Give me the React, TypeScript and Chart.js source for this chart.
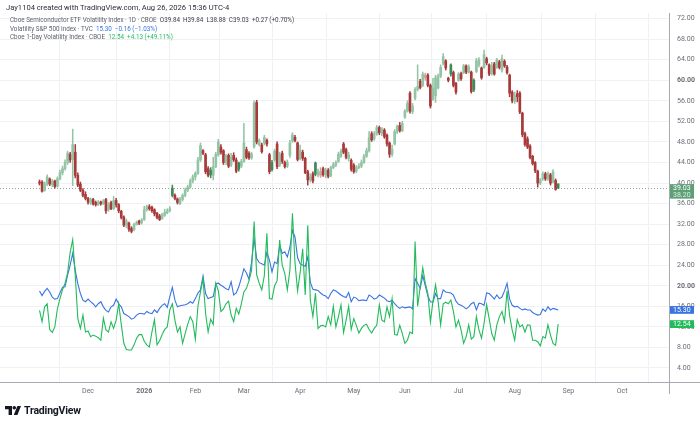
import React, { useEffect, useRef } from 'react';
import { Chart, registerables } from 'chart.js';

Chart.register(...registerables);

// ---------- DATA ----------
// Trading-day index 0 = 3 Nov 2025 ... 203 = 26 Aug 2026
const openP = [
  40.2, 40.2, 38.6, 39.8, 40.8, 39.7, 40.4, 39.4, 40.8, 42.0,
  42.8, 44.0, 45.6, 44.6, 46.0, 41.5, 39.8, 38.6, 37.8, 37.0,
  36.2, 36.8, 36.2, 35.8, 36.3, 36.0, 36.8, 34.8, 36.2, 35.0,
  36.6, 35.8, 34.5, 33.4, 31.8, 32.2, 31.2, 30.9, 31.9, 32.6,
  32.3, 32.9, 34.8, 35.4, 35.3, 34.8, 34.1, 33.6, 33.1, 33.7,
  34.2, 34.6, 39.0, 37.6, 36.9, 36.0, 36.8, 37.6, 38.6, 39.2,
  40.4, 41.2, 41.9, 44.5, 46.3, 45.5, 42.8, 42.5, 41.5, 43.2,
  45.5, 47.0, 46.3, 44.0, 45.4, 43.5, 45.4, 44.5, 43.9, 43.3,
  44.2, 46.5, 45.8, 44.9, 47.0, 55.7, 47.5, 47.4, 47.8, 48.3,
  45.5, 44.0, 44.5, 47.6, 43.5, 45.8, 44.0, 43.3, 45.4, 48.2,
  48.9, 47.8, 44.8, 46.0, 44.8, 42.2, 40.6, 41.8, 43.9, 41.6,
  41.5, 42.8, 41.6, 42.5, 41.4, 43.0, 43.5, 44.2, 45.2, 47.6,
  46.5, 44.8, 44.4, 43.5, 42.3, 43.0, 43.3, 44.0, 45.2, 46.3,
  49.6, 48.6, 49.6, 50.8, 49.6, 50.3, 49.3, 47.8, 45.6, 47.6,
  50.0, 51.2, 50.2, 52.8, 54.0, 57.5, 53.9, 56.5, 58.2, 59.8,
  59.0, 60.5, 61.0, 59.0, 56.3, 57.0, 58.5, 60.8, 63.3, 63.8,
  60.4, 63.0, 61.5, 59.4, 60.0, 61.3, 61.5, 62.8, 61.6, 61.6,
  60.0, 61.7, 63.0, 62.4, 62.5, 64.2, 63.0, 61.4, 63.2, 62.5,
  63.6, 62.0, 63.7, 62.6, 61.0, 57.7, 55.9, 57.4, 57.5, 53.6,
  49.6, 48.6, 47.2, 45.2, 44.0, 42.3, 40.0, 40.8, 41.8, 40.8,
  41.6, 40.2, 40.5, 39.84,
];
const highP = [
  40.6, 40.5, 40.2, 41.6, 41.0, 40.7, 40.6, 41.2, 42.5, 43.3,
  44.5, 46.2, 46.0, 50.5, 47.5, 42.0, 40.2, 38.9, 38.3, 37.2,
  37.1, 37.0, 36.5, 36.6, 36.5, 36.8, 37.0, 36.2, 36.5, 37.4,
  37.0, 36.0, 34.7, 33.6, 33.0, 32.4, 31.5, 32.2, 32.6, 32.8,
  33.1, 35.5, 35.7, 35.8, 35.5, 35.0, 34.3, 33.9, 34.1, 34.9,
  35.0, 35.4, 39.6, 37.9, 37.1, 37.2, 37.9, 39.0, 39.6, 40.8,
  41.6, 42.2, 45.0, 47.8, 46.5, 45.8, 43.2, 43.0, 45.0, 46.0,
  48.5, 47.5, 46.5, 45.6, 45.7, 45.8, 45.9, 44.9, 44.1, 44.6,
  51.6, 47.0, 46.1, 46.0, 56.0, 56.1, 48.6, 47.8, 49.3, 48.6,
  45.8, 44.4, 46.6, 48.0, 46.0, 46.2, 44.3, 44.5, 48.3, 49.8,
  49.3, 48.0, 47.4, 46.4, 45.0, 42.5, 41.8, 42.2, 44.1, 42.7,
  43.0, 43.1, 42.9, 42.8, 43.3, 44.0, 44.3, 46.0, 46.6, 47.9,
  46.8, 46.0, 44.7, 43.8, 43.4, 43.8, 44.5, 45.6, 46.8, 50.0,
  50.0, 50.0, 51.2, 51.1, 50.8, 50.6, 49.6, 48.0, 47.4, 50.4,
  51.3, 51.8, 52.0, 54.3, 56.0, 57.8, 55.5, 58.6, 63.0, 60.2,
  61.6, 61.4, 61.3, 59.3, 60.4, 61.0, 61.2, 63.0, 65.2, 64.0,
  60.6, 63.2, 61.8, 59.6, 61.5, 61.6, 63.1, 63.0, 63.0, 61.8,
  60.3, 64.3, 64.4, 62.6, 65.9, 64.5, 63.2, 63.5, 63.5, 64.3,
  63.9, 64.9, 64.0, 62.9, 61.2, 58.0, 57.7, 58.0, 57.8, 53.8,
  49.9, 49.0, 47.5, 45.4, 44.2, 42.5, 40.9, 42.2, 42.1, 42.2,
  41.9, 42.6, 40.8, 39.84,
];
const lowP = [
  39.6, 38.2, 38.4, 39.5, 39.5, 39.3, 39.0, 39.2, 40.6, 41.6,
  42.5, 43.6, 44.0, 39.5, 41.0, 39.3, 38.3, 37.3, 36.7, 35.9,
  35.8, 35.7, 35.5, 35.6, 35.7, 35.8, 34.1, 34.5, 34.8, 34.8,
  35.3, 34.2, 33.0, 31.5, 31.3, 30.6, 30.3, 30.7, 31.8, 31.9,
  32.0, 32.7, 34.5, 34.7, 34.3, 33.6, 33.0, 32.7, 32.9, 33.5,
  34.0, 34.4, 37.3, 36.7, 35.9, 35.8, 36.5, 37.3, 38.3, 39.0,
  40.0, 40.6, 41.7, 44.2, 45.5, 41.8, 41.2, 41.0, 40.6, 43.0,
  45.2, 45.6, 43.6, 43.6, 43.0, 43.2, 44.2, 42.0, 42.3, 43.0,
  44.0, 44.7, 44.6, 44.6, 46.8, 47.6, 47.2, 45.8, 47.4, 47.2,
  41.8, 42.3, 44.2, 42.8, 43.2, 43.8, 42.9, 43.0, 45.0, 47.9,
  48.0, 44.3, 44.5, 44.4, 41.8, 39.6, 40.2, 40.0, 41.4, 41.2,
  41.1, 41.3, 41.0, 41.0, 41.2, 42.8, 43.2, 44.0, 45.0, 45.7,
  44.7, 44.3, 42.3, 41.9, 42.0, 42.8, 43.0, 43.8, 45.0, 46.0,
  48.1, 48.3, 49.3, 49.4, 49.2, 48.7, 47.2, 45.0, 45.2, 47.4,
  49.6, 49.9, 50.0, 52.6, 53.8, 53.6, 53.5, 56.2, 57.9, 58.3,
  58.8, 60.0, 58.7, 54.6, 56.1, 55.7, 58.3, 60.5, 63.0, 62.0,
  59.7, 60.8, 58.7, 57.3, 59.8, 60.0, 61.3, 61.3, 61.4, 57.5,
  57.8, 61.5, 62.6, 60.2, 62.3, 63.0, 60.9, 61.0, 61.0, 62.3,
  62.2, 61.6, 62.5, 61.2, 56.8, 55.6, 55.5, 55.8, 53.5, 49.0,
  47.2, 46.7, 44.7, 43.5, 42.0, 39.2, 39.7, 40.5, 40.5, 40.5,
  39.6, 40.0, 38.6, 38.88,
];
const closeP = [
  40.0, 38.4, 39.8, 41.2, 39.8, 40.4, 39.3, 40.8, 42.0, 42.8,
  44.0, 45.8, 44.5, 47.5, 41.5, 39.6, 38.6, 37.6, 37.0, 36.3,
  36.8, 35.9, 35.8, 36.3, 36.0, 36.5, 34.6, 35.8, 35.0, 36.6,
  35.8, 34.6, 33.3, 31.8, 32.6, 31.0, 30.6, 31.9, 32.3, 32.2,
  32.8, 34.8, 35.4, 35.0, 34.6, 34.0, 33.3, 32.9, 33.8, 34.3,
  34.6, 35.0, 37.6, 37.0, 36.2, 36.8, 37.6, 38.6, 39.2, 40.4,
  41.2, 41.9, 44.5, 47.3, 45.8, 42.2, 41.5, 41.6, 43.2, 45.6,
  48.0, 46.0, 44.0, 45.3, 43.3, 45.0, 44.5, 42.3, 42.7, 44.2,
  47.8, 45.0, 44.9, 45.6, 55.5, 48.0, 48.3, 46.1, 48.9, 47.6,
  42.2, 42.6, 46.2, 43.2, 45.5, 44.2, 43.2, 44.0, 47.8, 49.4,
  48.3, 44.6, 46.4, 44.8, 42.0, 40.6, 41.2, 40.4, 41.7, 42.3,
  42.2, 41.6, 42.5, 41.3, 43.0, 43.6, 44.0, 45.6, 46.2, 46.0,
  45.0, 45.5, 42.7, 42.2, 43.0, 43.3, 44.0, 45.2, 46.3, 48.8,
  48.4, 49.6, 50.8, 49.8, 50.5, 49.0, 47.6, 45.6, 46.6, 50.0,
  51.0, 50.2, 51.6, 54.0, 55.5, 54.0, 55.0, 58.2, 58.8, 58.6,
  61.2, 61.0, 59.0, 55.0, 58.5, 60.5, 60.8, 62.5, 64.6, 62.4,
  60.0, 61.2, 59.0, 57.7, 61.2, 60.3, 62.8, 61.6, 62.6, 57.8,
  58.2, 63.8, 64.0, 60.5, 65.0, 63.4, 61.2, 62.8, 61.2, 64.0,
  62.5, 64.2, 62.8, 61.5, 57.5, 56.0, 57.0, 56.8, 53.8, 49.4,
  47.5, 47.0, 45.0, 43.8, 42.4, 40.0, 40.6, 41.8, 40.8, 41.9,
  40.0, 42.2, 38.76, 39.03,
];
// Volatility S&P 500 Index (VIX)
const vix = [
  19.0, 18.1, 18.9, 19.5, 18.8, 17.8, 17.4, 17.5, 18.6, 19.7,
  19.8, 22.1, 24.0, 26.3, 23.0, 20.4, 18.5, 17.2, 16.9, 17.4,
  16.9, 16.5, 15.9, 16.5, 16.9, 15.9, 15.2, 14.9, 15.9, 16.2,
  17.4, 16.5, 15.9, 14.6, 14.3, 14.0, 13.5, 13.7, 14.3, 14.6,
  14.6, 14.5, 15.0, 14.7, 14.6, 15.3, 14.8, 15.6, 16.2, 16.5,
  15.8, 17.9, 19.7, 17.2, 15.9, 16.1, 16.2, 16.3, 16.5, 16.9,
  16.6, 17.5, 18.6, 19.2, 21.9, 18.5, 17.5, 17.7, 17.9, 20.4,
  20.5, 20.1, 19.8, 19.4, 19.2, 20.8, 18.2, 18.6, 19.8, 21.5,
  23.3, 22.5, 21.3, 24.6, 29.2, 25.3, 24.5, 24.3, 24.0, 26.5,
  25.0, 22.7, 24.6, 24.3, 27.9, 26.3, 26.6, 25.6, 27.5, 30.8,
  29.5, 25.5, 24.3, 24.0, 23.8, 25.6, 20.7, 19.3, 19.2, 19.1,
  18.6, 18.2, 18.0, 17.5, 18.5, 19.2, 19.0, 18.6, 18.2, 17.9,
  17.7, 18.7, 16.9, 17.8, 17.6, 17.1, 17.2, 17.2, 17.1, 18.2,
  17.9, 17.4, 17.6, 18.2, 17.9, 17.6, 17.1, 16.9, 17.2, 16.5,
  16.0, 15.6, 15.9, 15.7, 15.8, 15.9, 15.5, 21.4, 20.5, 19.5,
  22.0, 20.0, 18.0, 16.9, 16.8, 18.5, 17.5, 17.5, 19.2, 18.8,
  18.7, 18.6, 18.2, 17.0, 16.4, 16.2, 15.9, 15.5, 15.9, 16.5,
  16.8, 15.3, 16.6, 16.5, 16.2, 18.6, 18.5, 18.0, 17.4, 18.2,
  17.5, 17.8, 19.0, 20.5, 17.4, 16.2, 15.9, 16.0, 15.6, 15.3,
  15.5, 15.3, 15.3, 14.8, 14.5, 14.3, 14.4, 15.5, 15.0, 15.9,
  15.3, 15.6, 15.46, 15.30,
];
// Cboe 1-Day Volatility Index (VIX1D)
const vix1d = [
  15.2, 13.0, 15.9, 16.5, 11.5, 10.9, 12.0, 15.5, 17.5, 19.2,
  20.5, 22.5, 26.5, 29.0, 22.0, 13.6, 11.7, 14.3, 11.0, 11.2,
  10.1, 10.4, 10.2, 9.9, 9.4, 13.7, 11.4, 11.0, 13.0, 11.7,
  13.3, 16.5, 12.5, 8.8, 7.6, 7.5, 7.5, 8.5, 9.8, 10.5,
  10.5, 9.2, 8.5, 8.1, 11.0, 13.4, 8.5, 9.3, 10.5, 11.5,
  12.0, 15.3, 16.5, 13.3, 11.0, 12.0, 8.8, 10.7, 12.5, 14.0,
  13.0, 9.6, 16.0, 18.8, 21.4, 14.6, 11.0, 13.5, 12.5, 20.5,
  19.0, 15.0, 15.5, 16.5, 17.0, 14.3, 13.0, 15.6, 14.5, 16.5,
  18.8, 19.5, 21.0, 23.0, 32.5, 22.1, 20.5, 19.2, 22.0, 30.2,
  17.5, 17.4, 20.0, 21.0, 28.9, 24.0, 22.4, 19.2, 23.0, 34.1,
  24.5, 19.0, 22.5, 27.2, 18.2, 31.8, 17.2, 14.0, 18.6, 11.7,
  12.2, 12.3, 12.0, 14.0, 12.4, 16.0, 12.0, 14.0, 16.3, 10.9,
  13.3, 16.0, 11.5, 13.6, 12.3, 10.8, 11.7, 12.3, 12.5, 11.5,
  10.8, 11.7, 12.3, 16.3, 13.3, 13.0, 15.9, 14.0, 17.5, 10.5,
  10.4, 12.3, 10.7, 8.8, 9.4, 11.0, 10.7, 28.6, 16.0, 19.8,
  23.5, 20.5, 18.5, 13.0, 17.0, 20.2, 17.0, 12.4, 16.5, 16.8,
  16.5, 17.2, 15.0, 12.0, 13.3, 11.4, 8.8, 10.1, 12.4, 9.6,
  10.1, 14.0, 11.4, 9.8, 12.7, 16.3, 13.6, 10.7, 9.4, 12.4,
  14.0, 15.0, 13.0, 19.0, 14.2, 11.4, 9.4, 13.4, 12.0, 12.4,
  11.0, 12.4, 12.3, 9.4, 9.4, 9.1, 8.3, 10.1, 9.8, 12.4,
  10.4, 8.8, 8.41, 12.54,
];
// Month ticks (trading-day index of first session of each month)
const monthTickIdx = [19, 41, 61, 80, 102, 123, 143, 164, 186, 207, 228];
const monthTickLbl = ['Dec', '2026', 'Feb', 'Mar', 'Apr', 'May', 'Jun', 'Jul', 'Aug', 'Sep', 'Oct'];
const priceTicks = [4, 8, 12, 16, 20, 24, 28, 32, 36, 40, 44, 48, 52, 56, 60, 64, 68, 72];
const boldPriceTicks = [20, 60];
const secondPriceLabel = '38.20';

// ---------- STYLE ----------
const FONT = 'Roboto, "Liberation Sans", Arial, sans-serif';
const UP = '#3f8a5c';
const UP_PALE = '#93c4a5';
const DN = '#a83a3a';
const DN_PALE = '#d6a1a1';
const BLUE = '#3a74e0';
const GREEN = '#22bb5b';
const GRID = '#eff1f5';
const AXIS = '#a7aab2';
const TICK = '#6b6e78';

const X_MIN = -15.46;
const X_MAX = 246.38;
const Y_MIN = 1.27;
const Y_MAX = 73.1;

export default function App() {
  const ref = useRef<HTMLCanvasElement | null>(null);

  useEffect(() => {
    const canvas = ref.current;
    if (!canvas) return;
    const idx = closeP.map((_, i) => i);
    const candleColor = (i: number) => {
      const prev = i > 0 ? closeP[i - 1] : openP[i];
      const up = closeP[i] >= prev;
      const hollow = closeP[i] >= openP[i];
      if (up) return hollow ? UP_PALE : UP;
      return hollow ? DN_PALE : DN;
    };
    const last = closeP.length - 1;

    const overlay = {
      id: 'tvOverlay',
      beforeDatasetsDraw(chart: any) {
        const { ctx, chartArea, scales } = chart;
        const y = Math.round(scales.y.getPixelForValue(closeP[last])) + 0.5;
        ctx.save();
        ctx.strokeStyle = '#8fa597';
        ctx.lineWidth = 1;
        ctx.setLineDash([1, 2]);
        ctx.beginPath();
        ctx.moveTo(chartArea.left, y);
        ctx.lineTo(chartArea.right, y);
        ctx.stroke();
        ctx.restore();
      },
      afterDraw(chart: any) {
        const { ctx, chartArea, scales } = chart;
        ctx.save();
        ctx.strokeStyle = AXIS;
        ctx.lineWidth = 1;
        ctx.beginPath();
        ctx.moveTo(chartArea.right, Math.round(chartArea.bottom) + 0.5);
        ctx.lineTo(700, Math.round(chartArea.bottom) + 0.5);
        ctx.moveTo(Math.round(chartArea.right) + 0.5, chartArea.bottom);
        ctx.lineTo(Math.round(chartArea.right) + 0.5, chartArea.bottom + 12);
        ctx.stroke();

        const bx = chartArea.right + 1;
        const bw = 24;
        ctx.font = `7px ${FONT}`;
        ctx.textBaseline = 'middle';
        ctx.textAlign = 'left';
        const box = (val: number, bg: string, lines: string[], colors: string[]) => {
          const yc = scales.y.getPixelForValue(val);
          const h = lines.length > 1 ? 14.5 : 7.8;
          ctx.fillStyle = bg;
          ctx.fillRect(bx, yc - 3.9, bw, h);
          lines.forEach((t, k) => {
            ctx.fillStyle = colors[k];
            ctx.fillText(t, bx + 3, yc + k * 6.8 + 0.2);
          });
        };
        box(closeP[last], '#5f9f78', [closeP[last].toFixed(2), secondPriceLabel], ['#ffffff', '#d9eee0']);
        box(vix[last], BLUE, [vix[last].toFixed(2)], ['#ffffff']);
        box(vix1d[last], GREEN, [vix1d[last].toFixed(2)], ['#ffffff']);
        ctx.restore();
      },
    };

    const chart = new Chart(canvas, {
      type: 'bar',
      data: {
        datasets: [
          {
            type: 'line',
            label: 'VIX',
            data: idx.map((i) => ({ x: i, y: vix[i] })),
            borderColor: BLUE,
            borderWidth: 1.1,
            pointRadius: 0,
            tension: 0,
            order: 4,
          } as any,
          {
            type: 'line',
            label: 'VIX1D',
            data: idx.map((i) => ({ x: i, y: vix1d[i] })),
            borderColor: GREEN,
            borderWidth: 1.1,
            pointRadius: 0,
            tension: 0,
            order: 3,
          } as any,
          {
            type: 'bar',
            label: 'wick',
            data: idx.map((i) => ({ x: i, y: [lowP[i], highP[i]] })),
            backgroundColor: (c: any) => candleColor(c.dataIndex),
            barThickness: 0.9,
            grouped: false,
            order: 2,
          } as any,
          {
            type: 'bar',
            label: 'body',
            data: idx.map((i) => ({ x: i, y: [openP[i], closeP[i]] })),
            backgroundColor: (c: any) => candleColor(c.dataIndex),
            barThickness: 2,
            minBarLength: 1,
            grouped: false,
            order: 1,
          } as any,
        ],
      },
      options: {
        animation: false,
        responsive: false,
        events: [],
        layout: { padding: { top: 13, left: 0, right: 0, bottom: 0 } },
        plugins: { legend: { display: false }, tooltip: { enabled: false } },
        scales: {
          x: {
            type: 'linear',
            min: X_MIN,
            max: X_MAX,
            offset: false,
            afterFit: (s: any) => { s.height = 42; },
            afterBuildTicks: (s: any) => { s.ticks = monthTickIdx.map((v) => ({ value: v })); },
            grid: { color: GRID, drawTicks: false },
            border: { color: AXIS, width: 1 },
            ticks: {
              autoSkip: false,
              maxRotation: 0,
              padding: 5,
              color: TICK,
              font: (c: any) => ({
                family: FONT,
                size: 7,
                weight: c.tick && c.tick.value === 41 ? 'bold' : 'normal',
              }),
              callback: (v: any) => {
                const k = monthTickIdx.indexOf(Number(v));
                return k >= 0 ? monthTickLbl[k] : '';
              },
            },
          },
          y: {
            type: 'linear',
            position: 'right',
            min: Y_MIN,
            max: Y_MAX,
            afterFit: (s: any) => { s.width = 31; },
            afterBuildTicks: (s: any) => { s.ticks = priceTicks.map((v) => ({ value: v })); },
            grid: { color: GRID, drawTicks: false },
            border: { color: AXIS, width: 1 },
            ticks: {
              padding: 8,
              color: TICK,
              font: (c: any) => ({
                family: FONT,
                size: 7,
                weight: c.tick && boldPriceTicks.includes(c.tick.value) ? 'bold' : 'normal',
              }),
              callback: (v: any) => Number(v).toFixed(2),
            },
          },
        },
      } as any,
      plugins: [overlay as any],
    });
    return () => chart.destroy();
  }, []);

  const lineStyle: React.CSSProperties = {
    position: 'absolute',
    left: 10,
    fontFamily: FONT,
    fontSize: 6.3,
    lineHeight: '7px',
    color: '#5d606b',
    whiteSpace: 'pre',
  };
  const cl = closeP[closeP.length - 1];
  const chg = cl - closeP[closeP.length - 2];
  const v = vix[vix.length - 1];
  const vchg = v - vix[vix.length - 2];
  const g = vix1d[vix1d.length - 1];
  const gchg = g - vix1d[vix1d.length - 2];
  const fmtPct = (d: number, base: number) => ((d / base) * 100).toFixed(2);
  const sign = (d: number) => (d >= 0 ? '+' : '\u2212');

  return (
    <div style={{ position: 'absolute', left: 0, top: 0, width: 700, height: 424, background: '#ffffff', overflow: 'hidden' }}>
      <canvas ref={ref} width={700} height={424} style={{ display: 'block', position: 'absolute', left: 0, top: 0 }} />
      <div style={{ position: 'absolute', left: 6, top: 3, fontFamily: FONT, fontSize: 7.6, lineHeight: '9px', color: '#2a2e39', whiteSpace: 'pre' }}>
        Jay1104 created with TradingView.com, Aug 26, 2026 15:36 UTC-4
      </div>
      <div style={{ ...lineStyle, top: 17 }}>
        {'Cboe Semiconductor ETF Volatility Index · 1D · CBOE  '}
        <span style={{ color: '#3b3e48' }}>
          {`O${openP[openP.length - 1].toFixed(2)}  H${highP[highP.length - 1].toFixed(2)}  L${lowP[lowP.length - 1].toFixed(2)}  C${cl.toFixed(2)}  ${sign(chg)}${Math.abs(chg).toFixed(2)} (${sign(chg)}${Math.abs(Number(fmtPct(chg, cl - chg))).toFixed(2)}%)`}
        </span>
      </div>
      <div style={{ ...lineStyle, top: 25.5 }}>
        {'Volatility S&P 500 Index · TVC  '}
        <span style={{ color: BLUE }}>{`${v.toFixed(2)}  ${sign(vchg)}${Math.abs(vchg).toFixed(2)} (${sign(vchg)}${Math.abs(Number(fmtPct(vchg, v - vchg))).toFixed(2)}%)`}</span>
      </div>
      <div style={{ ...lineStyle, top: 34 }}>
        {'Cboe 1-Day Volatility Index · CBOE  '}
        <span style={{ color: GREEN }}>{`${g.toFixed(2)}  ${sign(gchg)}${Math.abs(gchg).toFixed(2)} (${sign(gchg)}${Math.abs(Number(fmtPct(gchg, g - gchg))).toFixed(2)}%)`}</span>
      </div>
      <div style={{ position: 'absolute', left: 5, top: 404, display: 'flex', alignItems: 'center', gap: 3 }}>
        <svg width="16" height="9" viewBox="0 0 16 9">
          <path d="M0 0H7V9H3.6V3.2H0Z" fill="#131722" />
          <circle cx="9.3" cy="1.8" r="1.8" fill="#131722" />
          <path d="M12.4 0H16L12.4 9H8.8Z" fill="#131722" />
        </svg>
        <span style={{ fontFamily: FONT, fontWeight: 700, fontSize: 10.5, color: '#131722', letterSpacing: '-0.2px' }}>TradingView</span>
      </div>
    </div>
  );
}
